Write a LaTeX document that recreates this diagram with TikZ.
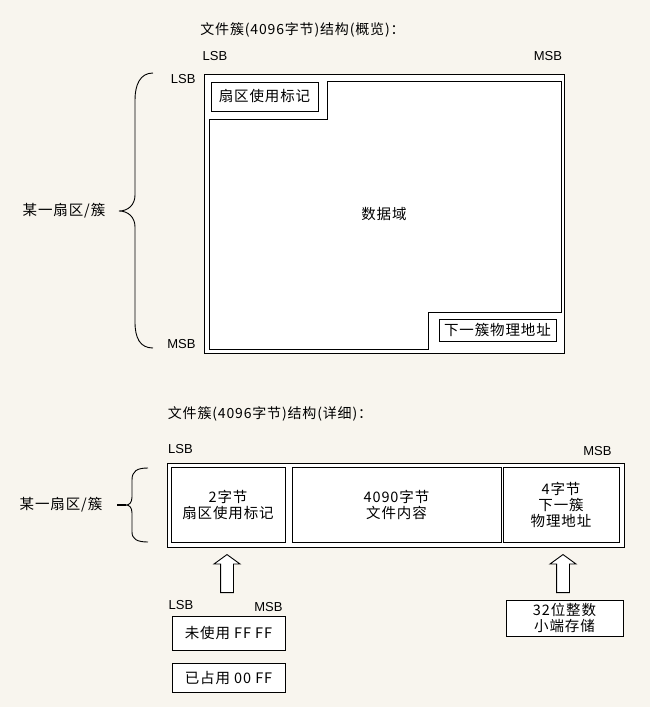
\documentclass[tikz,border=0pt]{standalone}
\usepackage{fontspec}
\setmainfont{Noto Sans CJK SC}[LetterSpace=6]
\newfontfamily\latinfont{Liberation Sans}
\usepackage{tikz}
\usetikzlibrary{positioning, shapes.arrows}
\definecolor{paper}{RGB}{248,245,238}

\begin{document}
\begin{tikzpicture}[x=1pt, y=-1pt, line width=0.9pt,
  txt/.style={font=\fontsize{14.5pt}{16pt}\selectfont, inner sep=0pt, align=center},
  heading/.style={font=\fontsize{14pt}{16pt}\selectfont, inner sep=0pt},
  bit/.style={font=\latinfont\fontsize{13pt}{15pt}\selectfont, inner sep=0pt},
  field/.style={draw, fill=white, txt},
  uparrow/.style={single arrow, draw, fill=white, rotate=90, minimum height=38pt, minimum width=25pt,
    inner sep=6pt, single arrow head extend=6.5pt, single arrow tip angle=108}]
\useasboundingbox[fill=paper] (0,0) rectangle (650,707);

\node[heading] (title1) at (302.5,30) {文件簇(4096字节)结构(概览)：};
\node[bit] (lsbA) at (215,56) {LSB};
\node[bit] (msbA) at (548,56) {MSB};
\node[draw, fill=white, minimum width=360pt, minimum height=279pt] (cluster) at (384,213.5) {};
\node[bit, anchor=east] (lsbB) at (196,79) {LSB};
\node[bit, anchor=east] (msbB) at (196,344) {MSB};
\draw (209,119) -- (327,119) -- (327,81) -- (561,81) -- (561,312) -- (428,312) -- (428,349) -- (209,349) -- cycle;
\node[field, minimum width=107pt, minimum height=29pt] (flag) at (264.5,96.5) {扇区使用标记};
\node[field, minimum width=117pt, minimum height=22pt] (link) at (497.5,330) {下一簇物理地址};
\node[txt] (data) at (384,214) {数据域};
\node[txt] (sector1) at (64,211) {某一扇区/簇};
\draw (153,73) .. controls (140,73) and (135,85) .. (135,100) -- (135,195)
  .. controls (135,205) and (128,211) .. (119,211)
  .. controls (128,211) and (135,217) .. (135,227) -- (135,322)
  .. controls (135,338) and (140,348) .. (153,348);

\node[heading] (title2) at (270,414) {文件簇(4096字节)结构(详细)：};
\node[bit] (lsbC) at (180.5,449) {LSB};
\node[bit] (msbC) at (597.5,451) {MSB};
\node[draw, fill=white, minimum width=457pt, minimum height=84pt] (row) at (395.5,505) {};
\node[field, minimum width=114pt, minimum height=75pt] (head) at (228,504.5) {2字节\\扇区使用标记};
\node[field, minimum width=209pt, minimum height=75pt] (body) at (396.5,504.5) {4090字节\\文件内容};
\node[field, minimum width=116pt, minimum height=75pt] (tail) at (561,504.5) {4字节\\下一簇\\物理地址};
\node[txt] (sector2) at (61,505) {某一扇区/簇};
\draw (148,468) .. controls (137,468) and (132,471) .. (132,480) -- (132,497)
  .. controls (132,503) and (129,505) .. (126,505)
  .. controls (129,505) and (132,507) .. (132,513) -- (132,532)
  .. controls (132,539) and (137,542) .. (148,542);
\draw[line width=1.6pt] (126,505) -- (117,505);

\node[uparrow, anchor=tip] (arrA) at (227,554) {};
\node[uparrow, anchor=tip] (arrB) at (563,554) {};
\node[bit] (lsbD) at (181,605) {LSB};
\node[bit] (msbD) at (268.5,607) {MSB};
\node[field, minimum width=113pt, minimum height=34pt] (unused) at (228.5,633) {未使用 FF FF};
\node[field, minimum width=113pt, minimum height=29pt, below=13pt of unused] (used) {已占用 00 FF};
\node[field, minimum width=117pt, minimum height=36pt] (order) at (564.5,618) {32位整数\\小端存储};
\end{tikzpicture}
\end{document}
